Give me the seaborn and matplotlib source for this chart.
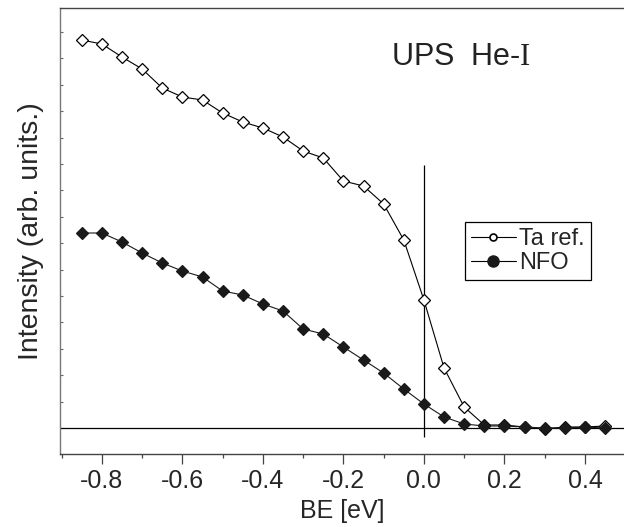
import matplotlib
matplotlib.use("Agg")
import matplotlib.pyplot as plt
from matplotlib import font_manager
from matplotlib.lines import Line2D
from matplotlib.ticker import MultipleLocator, NullFormatter
import seaborn as sns

# binding energy (eV), one point every 0.05 eV
be = [-0.85, -0.80, -0.75, -0.70, -0.65, -0.60, -0.55, -0.50, -0.45,
      -0.40, -0.35, -0.30, -0.25, -0.20, -0.15, -0.10, -0.05, 0.00,
      0.05, 0.10, 0.15, 0.20, 0.25, 0.30, 0.35, 0.40, 0.45]

# intensities (arb. units)
ta_ref = [3.88, 3.84, 3.71, 3.59, 3.40, 3.31, 3.28, 3.15, 3.06,
          3.00, 2.91, 2.77, 2.70, 2.47, 2.42, 2.24, 1.88, 1.28,
          0.60, 0.21, 0.03, 0.03, 0.01, -0.01, 0.01, 0.01, 0.02]
nfo = [1.95, 1.95, 1.86, 1.75, 1.65, 1.57, 1.51, 1.37, 1.33,
       1.24, 1.17, 0.99, 0.94, 0.81, 0.68, 0.55, 0.39, 0.24,
       0.11, 0.04, 0.02, 0.02, 0.01, 0.00, 0.00, 0.01, 0.00]

labels = ["Ta ref.", "NFO"]
x_ticks = [-0.8, -0.6, -0.4, -0.2, 0.0, 0.2, 0.4]

# Fermi level marker
ef_line = (0.0, -0.09, 2.63)


def pick_font(name, fallback):
    names = {f.name for f in font_manager.fontManager.ttflist}
    return name if name in names else fallback


def make_plot():
    sns.set_theme(style="ticks")
    plt.rcParams["font.family"] = ["Liberation Sans", "DejaVu Sans"]
    plt.rcParams["mathtext.fontset"] = "custom"
    plt.rcParams["mathtext.rm"] = "Liberation Serif"
    narrow = pick_font("Liberation Sans Narrow", "Liberation Sans")

    fig = plt.figure(figsize=(6.24, 5.27), dpi=100)
    ax = fig.add_axes([60 / 624, 73 / 527, 564 / 624, 446 / 527])

    sns.lineplot(x=be, y=ta_ref, ax=ax, color="black", lw=0.8,
                 marker="D", markersize=6, markerfacecolor="white",
                 markeredgecolor="black", markeredgewidth=0.9)
    sns.lineplot(x=be, y=nfo, ax=ax, color="#1a1a1a", lw=0.8,
                 marker="D", markersize=6, markerfacecolor="#1a1a1a",
                 markeredgecolor="#1a1a1a", markeredgewidth=0.9)

    ax.axhline(0, color="black", lw=0.9, zorder=1)
    ax.vlines(ef_line[0], ef_line[1], ef_line[2], color="black", lw=0.9, zorder=1)

    ax.set_xlim(-0.904, 0.497)
    ax.set_ylim(-0.26, 4.20)

    ax.set_xticks(x_ticks)
    ax.set_xticklabels([f"{v:.1f}" for v in x_ticks], fontfamily=narrow, fontsize=18)
    ax.xaxis.set_minor_locator(MultipleLocator(0.1))
    ax.tick_params(axis="x", which="major", direction="out", length=7, width=0.9,
                   color="#444444", pad=4)
    ax.tick_params(axis="x", which="minor", direction="out", length=3, width=0.9,
                   color="#444444")

    ax.yaxis.set_major_locator(MultipleLocator(0.264))
    ax.yaxis.set_major_formatter(NullFormatter())
    ax.tick_params(axis="y", which="major", direction="in", length=2.5, width=0.8,
                   color="#666666")

    for side in ["top", "bottom"]:
        ax.spines[side].set_color("#444444")
        ax.spines[side].set_linewidth(1.0)
    ax.spines["left"].set_color("#777777")
    ax.spines["left"].set_linewidth(1.0)
    ax.spines["right"].set_visible(False)

    ax.set_xlabel("BE [eV]", fontfamily=narrow, fontsize=18, labelpad=4)
    ax.set_ylabel("Intensity (arb. units.)", fontsize=20.5, labelpad=8)

    ax.text(391 / 624, 1 - 57 / 527, "UPS  He-$\\mathrm{I}$", transform=fig.transFigure,
            fontsize=22, va="center", ha="left", color="#222222")

    handles = [
        Line2D([], [], color="black", lw=0.8, marker="o", markersize=5,
               markerfacecolor="white", markeredgecolor="black", markeredgewidth=1.2),
        Line2D([], [], color="black", lw=0.8, marker="o", markersize=8,
               markerfacecolor="#1a1a1a", markeredgecolor="#1a1a1a"),
    ]
    leg = ax.legend(handles, labels, loc="upper left",
                    bbox_to_anchor=(465 / 624, 1 - 222 / 527),
                    bbox_transform=fig.transFigure, fancybox=False,
                    frameon=True, edgecolor="black", framealpha=1,
                    prop={"family": narrow, "size": 17},
                    handlelength=1.9, handletextpad=0.15, borderpad=0.25,
                    labelspacing=0.1, borderaxespad=0)
    leg.get_frame().set_linewidth(0.9)

    fig.savefig("out.png", dpi=100)
    plt.close(fig)


if __name__ == "__main__":
    make_plot()
